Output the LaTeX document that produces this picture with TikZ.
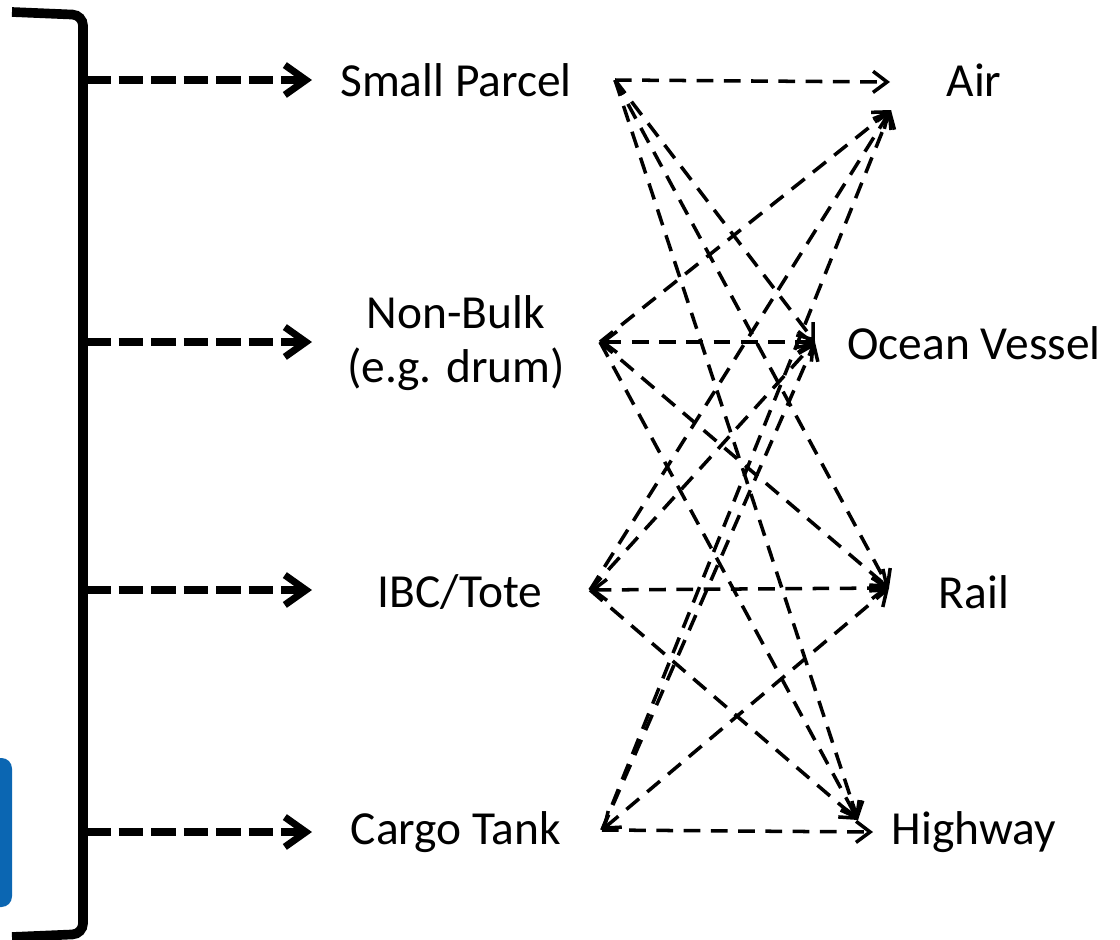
\documentclass[tikz,border=0pt]{standalone}
\usepackage{fontspec}
\setmainfont{Carlito}
\usetikzlibrary{positioning}
\usetikzlibrary{arrows.meta}

\definecolor{boxblue}{HTML}{0B66B2}

\begin{document}
\begin{tikzpicture}[x=0.02cm, y=-0.02cm,
    lbl/.style={font=\fontsize{27}{31}\selectfont, align=center, inner sep=0pt},
    feed/.style={line width=4pt, dash pattern=on 14pt off 4.5pt,
      -{Straight Barb[length=12pt, width=17pt]}},
    route/.style={line width=2pt, dash pattern=on 9.5pt off 6pt,
      -{Straight Barb[length=8pt, width=12pt]}},
    both/.style={route, {Straight Barb[length=8pt, width=12pt]}-{Straight Barb[length=8pt, width=12pt]}}]
  \useasboundingbox (0,0) rectangle (1120,940);
  \fill[boxblue, rounded corners=6pt] (-40,758) rectangle (12,907);
  \draw[line width=5.5pt, rounded corners=6pt] (12,12) -- (83,15) -- (83,934) -- (12,937);

  \node[lbl] (parcel) at (456,80) {Small Parcel};
  \node[lbl] (nonbulk) at (456,343) {Non-Bulk\\(e.g. drum)};
  \node[lbl] (tote) at (460,592) {IBC/Tote};
  \node[lbl] (tank) at (456,832) {Cargo Tank};
  \node[lbl] (air) at (974,80) {Air};
  \node[lbl] (ocean) at (974,343) {Ocean Vessel};
  \node[lbl] (rail) at (974,592) {Rail};
  \node[lbl] (highway) at (974,832) {Highway};

  \foreach \n/\y in {parcel/80, nonbulk/342, tote/590, tank/832} {
    \coordinate (\n-from) at (86,\y);
    \coordinate (\n-to) at (312,\y);
    \draw[feed] (\n-from) -- (\n-to);
  }

  \coordinate (parcel-out) at (615,80);
  \coordinate (nonbulk-out) at (600,342);
  \coordinate (tote-out) at (590,590);
  \coordinate (tank-out) at (602,830);
  \coordinate (air-in) at (890,82);
  \coordinate (air-in2) at (891,110);
  \coordinate (ocean-in) at (815,342);
  \coordinate (rail-in) at (889,588);
  \coordinate (highway-in) at (858,820);
  \coordinate (highway-in2) at (873,832);

  \foreach \a/\b in {parcel/air-in, parcel/ocean-in, parcel/rail-in, parcel/highway-in,
      nonbulk/air-in2, nonbulk/rail-in, nonbulk/highway-in,
      tote/air-in2, tote/ocean-in, tote/highway-in,
      tank/air-in2, tank/ocean-in, tank/highway-in2}
    \draw[route] (\a-out) -- (\b);
  \foreach \a/\b in {nonbulk/ocean-in, tote/rail-in, tank/rail-in}
    \draw[both] (\a-out) -- (\b);
\end{tikzpicture}
\end{document}
